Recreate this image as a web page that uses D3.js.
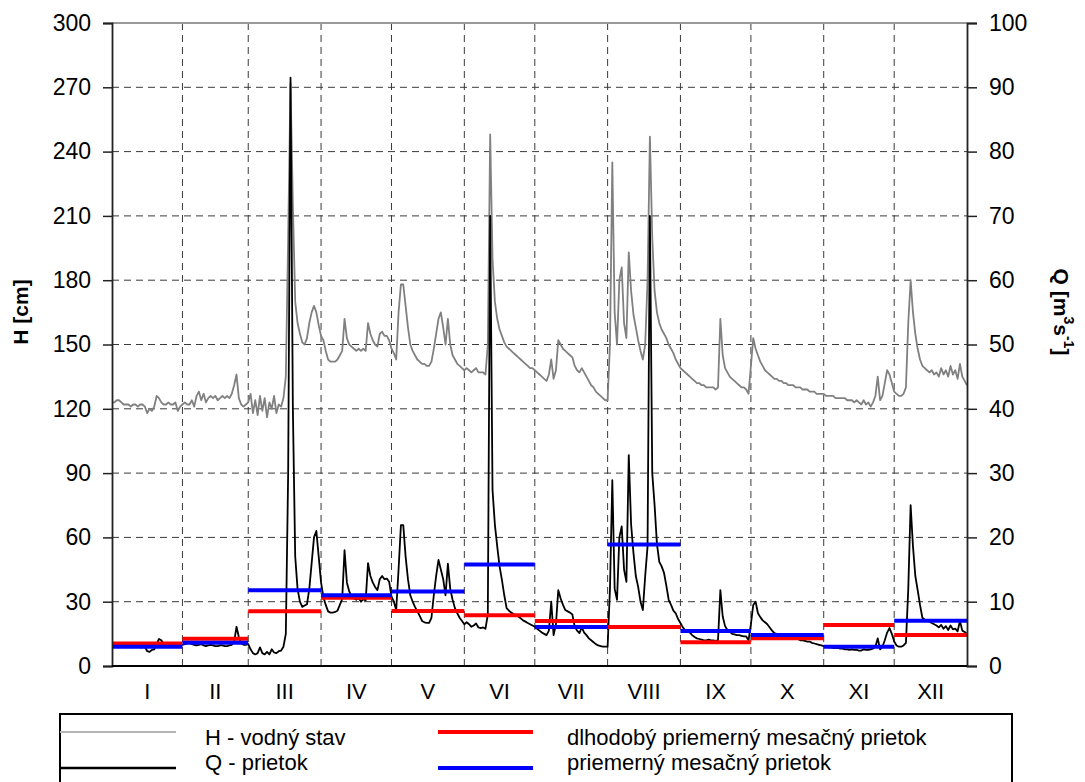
<!DOCTYPE html>
<html>
<head>
<meta charset="utf-8">
<script src="https://cdn.jsdelivr.net/npm/d3@7"></script>
<style>
    body { margin: 0; background: #fff; }
    svg { font-family: "Liberation Sans", Arial, sans-serif; }
</style>
</head>
<body>
<script>
(function(){

    //month labels and number of days in each month
    var months = ["I", "II", "III", "IV", "V", "VI", "VII", "VIII", "IX", "X", "XI", "XII"];
    var monthDays = [31, 28, 31, 30, 31, 30, 31, 31, 30, 31, 30, 31];

    //axis ticks
    var hTicks = [0, 30, 60, 90, 120, 150, 180, 210, 240, 270, 300];
    var qTicks = [0, 10, 20, 30, 40, 50, 60, 70, 80, 90, 100];

    //daily water level H [cm]
    var hData = [
        //I
        123,123,124,124,123,122,122,122,121,122,122,121,122,122,121,118,120,119,121,126,125,123,122,122,123,122,122,123,119,121,122,
        //II
        123,122,122,124,121,126,128,124,127,123,125,126,125,126,124,125,126,125,126,125,127,131,136,125,122,121,122,123,
        //III
        127,118,124,117,126,119,125,116,123,120,126,118,122,121,125,135,200,272,215,170,160,155,151,150,153,160,165,168,165,159,154,
        //IV
        152,147,143,142,142,142,143,145,147,162,153,150,149,148,147,148,147,148,147,160,155,152,150,149,155,156,154,154,152,148,
        //V
        146,143,165,178,178,168,158,150,147,145,143,142,141,141,140,140,142,148,155,162,165,158,150,162,150,145,143,141,140,139,138,
        //VI
        139,138,137,138,139,137,137,137,136,150,248,190,170,162,157,154,151,149,148,147,146,145,144,143,142,141,140,139,139,138,
        //VII
        137,136,135,134,133,136,143,134,138,152,150,148,147,146,145,144,140,138,137,139,137,135,133,131,130,128,127,126,125,124,124,
        //VIII
        150,235,165,150,180,186,160,153,193,175,164,158,152,147,143,150,180,247,200,175,165,160,157,155,153,150,148,146,143,141,139,
        //IX
        138,137,136,135,134,133,132,132,131,131,130,130,130,130,129,130,162,145,139,137,135,134,133,132,131,130,130,129,127,140,
        //X
        153,148,145,142,140,138,137,136,135,134,134,133,133,132,132,131,131,131,130,130,130,129,129,129,128,128,128,127,127,127,127,
        //XI
        126,126,126,126,125,125,125,125,125,124,124,124,123,124,123,122,124,122,123,121,123,126,135,124,126,132,138,136,132,128,
        //XII
        127,126,126,127,130,160,180,165,155,148,143,140,139,138,137,138,136,137,135,139,136,138,135,140,136,138,134,141,135,133,131
    ];

    //daily discharge Q [m3/s]
    var qData = [
        //I
        3.2,3.2,3.1,3.1,3.0,3.0,3.1,3.0,3.0,2.9,3.0,3.0,2.9,2.9,3.0,2.3,2.2,2.5,2.6,3.4,4.2,4.0,3.4,3.2,3.1,3.1,3.0,3.0,3.1,3.2,3.3,
        //II
        3.4,3.5,3.6,3.4,3.3,3.2,3.3,3.4,3.2,3.1,3.2,3.3,3.2,3.1,3.1,3.2,3.2,3.1,3.1,3.2,3.3,3.8,6.1,4.5,3.5,3.3,3.3,3.4,
        //III
        2.6,2.0,1.8,2.0,2.9,2.0,1.8,2.2,1.8,2.6,2.1,2.0,2.3,2.4,3.0,5.0,30,91.5,40,17,12,10,9.2,9.4,9.6,12,16,20,21,17,13,
        //IV
        10.7,9.5,8.5,8.3,8.3,8.4,8.6,9.5,10.4,18,13,11.6,10.8,10.5,10.3,10.6,10.0,10.4,10.2,16,14,13,12.3,11.8,13.5,14,13.5,13.6,13.1,10.8,
        //V
        10.0,8.7,15,21.9,21.9,17,13.5,11,10,9.2,8.5,7.8,7.0,6.8,6.7,6.7,7.5,11,14,16.5,15,13.5,11,15.9,12,10.3,9,8.2,7.5,7.0,6.5,
        //VI
        6.8,6.5,6.1,6.3,6.6,6.0,5.9,6.0,5.8,8,70,27.4,22,18.6,15.5,13.4,11,9.0,8.6,8.3,8.1,7.9,7.7,7.4,7.1,6.9,6.7,6.5,6.3,6.1,
        //VII
        5.8,5.5,5.2,5.0,4.8,5.5,10,4.8,6.5,11.8,10.5,9.5,8.7,8.5,8.3,8.0,6.1,5.5,5.1,6.0,5.2,4.8,4.3,4.0,3.7,3.4,3.2,3.1,3.0,3.0,3.0,
        //VIII
        12,28.9,12,10.3,20,21.7,15,13.1,32.8,22,17.6,14,12.3,10,8.7,14,18.6,70,30,25,19,16.2,15.5,14.5,12.5,10.3,9.5,8.6,8.2,7.3,6.7,
        //IX
        6.0,5.6,5.4,5.2,4.8,4.5,4.3,4.2,4.1,4.0,4.0,4.1,4.0,4.0,3.9,4.0,11.8,7.7,6.2,5.6,5.3,5.0,4.9,4.8,4.8,4.7,4.6,4.6,4.0,6.5,
        //X
        9.5,10,8.2,7.6,7.1,6.8,6.5,6.0,5.5,5.1,5.0,4.8,4.7,4.6,4.5,4.4,4.3,4.3,4.2,4.2,4.0,4.0,3.9,3.8,3.8,3.6,3.5,3.4,3.3,3.2,3.1,
        //XI
        3.0,2.9,2.9,2.8,2.8,2.8,2.7,2.7,2.6,2.6,2.5,2.6,2.5,2.5,2.4,2.4,2.6,2.5,2.5,2.6,2.7,3.0,4.3,2.6,3.0,4.0,5.2,5.9,5.0,3.8,
        //XII
        3.2,3.0,3.0,3.2,3.6,12,25,18.6,14,11.8,9.5,7.5,7.2,7.0,6.9,6.7,6.5,6.3,6.0,6.4,5.8,6.2,5.6,6.3,5.7,5.8,5.4,7.0,5.5,5.3,5.0
    ];

    //long-term average monthly discharge (red) and this year's monthly average (blue)
    var qLongTerm = [3.5, 4.25, 8.5, 10.6, 8.55, 7.9, 7.0, 6.07, 3.68, 4.3, 6.38, 4.82];
    var qMonthly  = [3.0, 3.6, 11.8, 11.0, 11.6, 15.8, 6.07, 18.9, 5.44, 4.82, 3.0, 7.05];

    //legend entries
    var legendItems = [
        {label: "H - vodný stav", color: "#b4b4b4", width: 2},
        {label: "Q - prietok", color: "#000", width: 2.5},
        {label: "dlhodobý priemerný mesačný prietok", color: "#ff0000", width: 4},
        {label: "priemerný mesačný prietok", color: "#0000ff", width: 4}
    ];

    window.onload = drawChart();

    function drawChart(){
        var width = 1085,
            height = 782,
            left = 112,
            right = 967,
            top = 23,
            bottom = 666;

        var svg = d3.select("body")
            .append("svg")
            .attr("width", width)
            .attr("height", height);

        //day scale, left H scale and right Q scale
        var x = d3.scaleLinear().domain([1, 365]).range([left, right]);
        var yH = d3.scaleLinear().domain([0, 300]).range([bottom, top]);
        var yQ = d3.scaleLinear().domain([0, 100]).range([bottom, top]);

        //cumulative month ends (plain array, cumsum gives a typed array)
        var monthEnds = Array.from(d3.cumsum(monthDays));
        var monthSpans = monthEnds.map(function(e, i){
            return [i === 0 ? 1 : monthEnds[i - 1], e];
        });

        var grid = svg.append("g").attr("class", "grid")
            .attr("stroke", "#3a3a3a")
            .attr("stroke-width", 1)
            .attr("stroke-dasharray", "7,5");

        //horizontal gridlines
        grid.selectAll(".hgrid")
            .data(hTicks.filter(function(d){ return d > 0 && d < 300; }))
            .enter()
            .append("line")
            .attr("x1", left)
            .attr("x2", right)
            .attr("y1", function(d){ return yH(d); })
            .attr("y2", function(d){ return yH(d); });

        //vertical month gridlines
        grid.selectAll(".vgrid")
            .data(monthEnds.slice(0, 11))
            .enter()
            .append("line")
            .attr("x1", function(d){ return x(d); })
            .attr("x2", function(d){ return x(d); })
            .attr("y1", top)
            .attr("y2", bottom);

        //water level line
        var hLine = d3.line()
            .x(function(d, i){ return x(i + 1); })
            .y(function(d){ return yH(d); });

        svg.append("path")
            .datum(hData)
            .attr("d", hLine)
            .attr("fill", "none")
            .attr("stroke", "#808080")
            .attr("stroke-width", 1.8)
            .attr("stroke-linejoin", "round");

        //discharge line
        var qLine = d3.line()
            .x(function(d, i){ return x(i + 1); })
            .y(function(d){ return yQ(d); });

        svg.append("path")
            .datum(qData)
            .attr("d", qLine)
            .attr("fill", "none")
            .attr("stroke", "#000")
            .attr("stroke-width", 1.8)
            .attr("stroke-linejoin", "round");

        //monthly average bars
        function drawMonthLines(values, color){
            svg.append("g")
                .selectAll("line")
                .data(values)
                .enter()
                .append("line")
                .attr("x1", function(d, i){ return x(monthSpans[i][0]); })
                .attr("x2", function(d, i){ return x(monthSpans[i][1]); })
                .attr("y1", function(d){ return yQ(d); })
                .attr("y2", function(d){ return yQ(d); })
                .attr("stroke", color)
                .attr("stroke-width", 4);
        }
        drawMonthLines(qLongTerm, "#ff0000");
        drawMonthLines(qMonthly, "#0000ff");

        //plot frame top
        svg.append("line")
            .attr("x1", left).attr("x2", right)
            .attr("y1", top).attr("y2", top)
            .attr("stroke", "#999")
            .attr("stroke-width", 2);

        //left axis
        var axisH = svg.append("g")
            .attr("transform", "translate(" + left + ",0)")
            .call(d3.axisLeft(yH).tickValues(hTicks).tickSize(9).tickPadding(12));
        //right axis
        var axisQ = svg.append("g")
            .attr("transform", "translate(" + right + ",0)")
            .call(d3.axisRight(yQ).tickValues(qTicks).tickSize(10).tickPadding(12));

        [axisH, axisQ].forEach(function(a){
            a.select(".domain").attr("stroke", "#222").attr("stroke-width", 1.8);
            a.selectAll(".tick line").attr("stroke", "#222").attr("stroke-width", 1.5);
            a.selectAll("text")
                .attr("font-size", 23)
                .attr("font-family", "Liberation Sans, Arial, sans-serif")
                .attr("fill", "#000");
        });

        //bottom axis line
        svg.append("line")
            .attr("x1", left).attr("x2", right)
            .attr("y1", bottom).attr("y2", bottom)
            .attr("stroke", "#000")
            .attr("stroke-width", 1.8);

        //month labels centred in each month
        svg.selectAll(".month")
            .data(months)
            .enter()
            .append("text")
            .attr("class", "month")
            .attr("x", function(d, i){ return x((monthSpans[i][0] + monthSpans[i][1]) / 2); })
            .attr("y", 699)
            .attr("text-anchor", "middle")
            .attr("font-size", 22)
            .text(function(d){ return d; });

        //axis titles
        svg.append("text")
            .attr("transform", "translate(22,312) rotate(-90)")
            .attr("text-anchor", "middle")
            .attr("dominant-baseline", "middle")
            .attr("font-size", 21)
            .attr("font-weight", "bold")
            .text("H [cm]");

        var qTitle = svg.append("text")
            .attr("transform", "translate(1060,312) rotate(90)")
            .attr("text-anchor", "middle")
            .attr("dominant-baseline", "middle")
            .attr("font-size", 21)
            .attr("font-weight", "bold");
        qTitle.append("tspan").text("Q [m");
        qTitle.append("tspan").attr("font-size", 14).attr("dy", -8).text("3");
        qTitle.append("tspan").attr("dy", 8).text("s");
        qTitle.append("tspan").attr("font-size", 14).attr("dy", -8).text("-1");
        qTitle.append("tspan").attr("dy", 8).text("]");

        //legend box
        svg.append("rect")
            .attr("x", 60)
            .attr("y", 714)
            .attr("width", 952)
            .attr("height", 100)
            .attr("fill", "none")
            .attr("stroke", "#000")
            .attr("stroke-width", 2);

        var legend = svg.append("g").attr("class", "legend");
        var legendPos = [
            {x1: 60, x2: 176, tx: 205, y: 732},
            {x1: 60, x2: 176, tx: 205, y: 768},
            {x1: 438, x2: 533, tx: 567, y: 732},
            {x1: 438, x2: 533, tx: 567, y: 768}
        ];
        var entries = legend.selectAll("g")
            .data(legendItems)
            .enter()
            .append("g");
        entries.append("line")
            .attr("x1", function(d, i){ return legendPos[i].x1; })
            .attr("x2", function(d, i){ return legendPos[i].x2; })
            .attr("y1", function(d, i){ return legendPos[i].y; })
            .attr("y2", function(d, i){ return legendPos[i].y; })
            .attr("stroke", function(d){ return d.color; })
            .attr("stroke-width", function(d){ return d.width; });
        entries.append("text")
            .attr("x", function(d, i){ return legendPos[i].tx; })
            .attr("y", function(d, i){ return legendPos[i].y + (i % 2 === 0 ? 13 : 2); })
            .attr("font-size", 22)
            .text(function(d){ return d.label; });
    };
})();
</script>
</body>
</html>
